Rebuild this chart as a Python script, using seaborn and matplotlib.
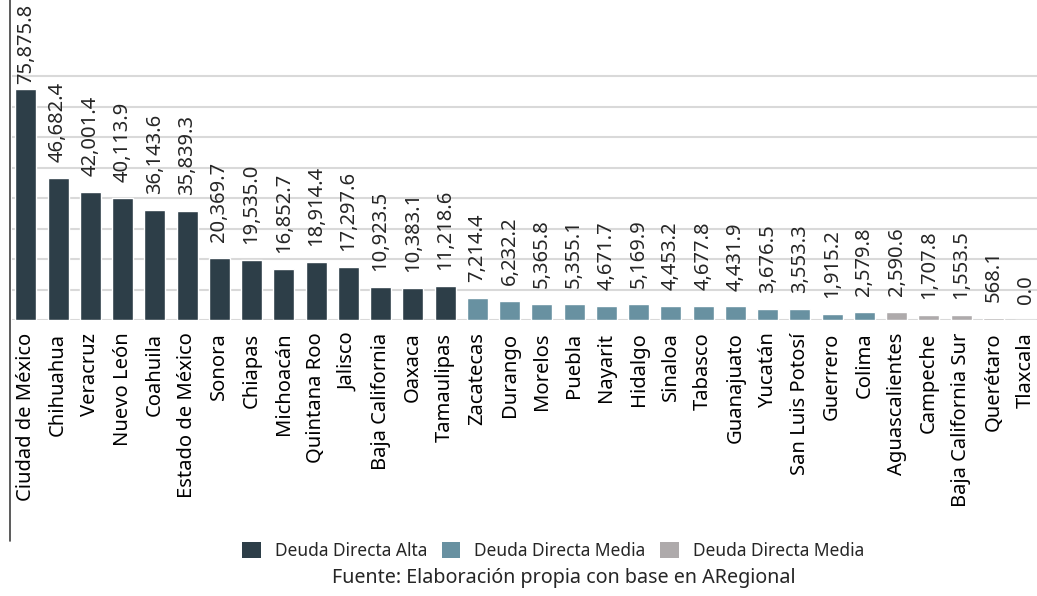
import matplotlib
matplotlib.use("Agg")
import matplotlib.pyplot as plt
from matplotlib.patches import Patch
from matplotlib.lines import Line2D
import seaborn as sns
import pandas as pd

# data (millones de pesos)
estados = [
    "Ciudad de México", "Chihuahua", "Veracruz", "Nuevo León", "Coahuila",
    "Estado de México", "Sonora", "Chiapas", "Michoacán", "Quintana Roo",
    "Jalisco", "Baja California", "Oaxaca", "Tamaulipas",
    "Zacatecas", "Durango", "Morelos", "Puebla", "Nayarit", "Hidalgo",
    "Sinaloa", "Tabasco", "Guanajuato", "Yucatán", "San Luis Potosí",
    "Guerrero", "Colima",
    "Aguascalientes", "Campeche", "Baja California Sur", "Querétaro", "Tlaxcala",
]
deuda = [
    75875.8, 46682.4, 42001.4, 40113.9, 36143.6, 35839.3, 20369.7, 19535.0,
    16852.7, 18914.4, 17297.6, 10923.5, 10383.1, 11218.6,
    7214.4, 6232.2, 5365.8, 5355.1, 4671.7, 5169.9, 4453.2, 4677.8,
    4431.9, 3676.5, 3553.3, 1915.2, 2579.8,
    2590.6, 1707.8, 1553.5, 568.1, 0.0,
]
grupo = ["alta"] * 14 + ["media"] * 13 + ["baja"] * 5
grupos = ["alta", "media", "baja"]
leyenda = ["Deuda Directa Alta", "Deuda Directa Media", "Deuda Directa Media"]
colores = {"alta": "#2d3e48", "media": "#6891a1", "baja": "#aeaaab"}

df = pd.DataFrame({"estado": estados, "deuda": deuda, "grupo": grupo})

sns.set_style("white")
plt.rcParams["font.family"] = ["Noto Sans", "DejaVu Sans"]

W, H = 1037, 596
fig = plt.figure(figsize=(W / 100, H / 100), dpi=100)
ax = fig.add_axes([12 / W, 1 - 320 / H, (W - 12) / W, 320 / H])

sns.barplot(data=df, x="estado", y="deuda", hue="grupo", palette=colores,
            dodge=False, width=0.65, legend=False, ax=ax, saturation=1)

ax.set_ylim(0, 105000)
ax.set_xlim(-0.43, 31.35)
ax.set_yticks(range(0, 80001, 10000))
ax.yaxis.grid(True, color="#d9d9d9", linewidth=1.5)
ax.set_axisbelow(True)
ax.tick_params(axis="y", left=False, labelleft=False)
ax.tick_params(axis="x", length=0, pad=9, labelsize=14.5, labelcolor="#000000")
plt.setp(ax.get_xticklabels(), rotation=90)
ax.set_xlabel("")
ax.set_ylabel("")
for s in ax.spines.values():
    s.set_visible(False)

# value labels
for i, v in enumerate(deuda):
    txt = f"{v:,.1f}"
    if i == 0:
        ax.annotate(txt, xy=(i, 1), xycoords=("data", "axes fraction"),
                    xytext=(0, -3), textcoords="offset points",
                    rotation=90, ha="center", va="top", fontsize=14.5,
                    annotation_clip=False)
    else:
        ax.annotate(txt, xy=(i, v), xytext=(0, 11.5), textcoords="offset points",
                    rotation=90, ha="center", va="bottom", fontsize=14.5,
                    annotation_clip=False)

# left rule running down past the labels
fig.add_artist(Line2D([10 / W, 10 / W], [1 - 541 / H, 1], color="#404040",
                      linewidth=1.2, transform=fig.transFigure))

handles = [Patch(facecolor=colores[g], edgecolor="none") for g in grupos]
fig.legend(handles, leyenda, loc="center", bbox_to_anchor=(553 / W, 1 - 551 / H),
           ncol=3, frameon=False, fontsize=12.5, handlelength=1.07,
           handleheight=1.07, handletextpad=0.8, columnspacing=0.85,
           borderpad=0, borderaxespad=0)
fig.text(564 / W, 1 - 578 / H, "Fuente: Elaboración propia con base en ARegional",
         ha="center", va="center", fontsize=14.2)

fig.savefig("out.png", dpi=100)
